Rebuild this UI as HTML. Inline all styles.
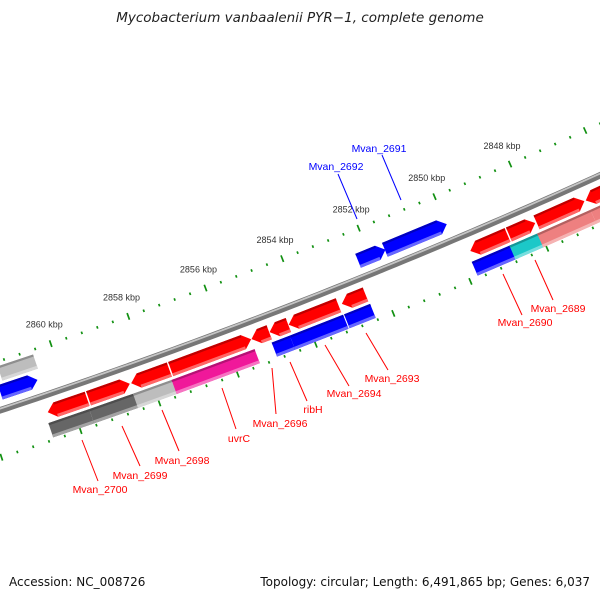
<!DOCTYPE html>
<html><head><meta charset="utf-8"><style>
body{margin:0;background:#fff;}
svg{display:block;font-family:"Liberation Sans","DejaVu Sans",sans-serif;}
</style></head><body>
<svg id="map" width="600" height="600" viewBox="0 0 600 600" xmlns="http://www.w3.org/2000/svg">
<rect width="600" height="600" fill="#fff"/>
<text x="300" y="22" text-anchor="middle" font-size="13.5" font-style="italic" fill="#222" style="font-family:'DejaVu Sans',sans-serif">Mycobacterium vanbaalenii PYR−1, complete genome</text>
<g id="ticks"></g>
<g id="backbone"></g>
<g id="genes"></g>
<g id="labels"></g>
<text x="9" y="586" font-size="12" fill="#111" style="font-family:'DejaVu Sans',sans-serif">Accession: NC_008726</text>
<text x="590" y="586" text-anchor="end" font-size="12" fill="#111" style="font-family:'DejaVu Sans',sans-serif">Topology: circular; Length: 6,491,865 bp; Genes: 6,037</text>
</svg>
<script>
// gene data (bp)
const geneStart = [2860622,2859585,2858497,2857486,2855412,2854946,2854453,2853079,2849736,2848725,2847999,2846703,
  2860674,2859637,2858523,2857538,2854972,2854505,2853105,2849788,2848803,2848077,2846677,
  2861555,2852328,2851628,2861400];
const geneEnd = [2859585,2858497,2857486,2855386,2854920,2854427,2853131,2852431,2848725,2847999,2846703,2845277,
  2859637,2858471,2857486,2855412,2854505,2853131,2852431,2848725,2848025,2846677,2845174,
  2860570,2851576,2849969,2860492];
const geneRow = [17,17,17,17,17,17,17,17,17,17,17,17,
  35,35,35,35,35,35,35,35,35,35,35,
  -17,-17,-17,-35];
const geneTip = ['L','R','L','R','L','L','L','L','L','R','R','L',
  'N','N','N','N','N','N','N','N','N','N','N',
  'R','R','R','N'];
const geneColor = ['#f00','#f00','#f00','#f00','#f00','#f00','#f00','#f00','#f00','#f00','#f00','#f00',
  '#666','#666','#bdbdbd','#f0189a','#00f','#00f','#00f','#00f','#1cc8c8','#ee8080','#ee8080',
  '#00f','#00f','#00f','#bdbdbd'];
const tickLabels = [2848,2850,2852,2854,2856,2858,2860];

const NS='http://www.w3.org/2000/svg';
const cx=-1879, cy=-5271, R0=5984;
const phiOfX = x => Math.acos((x-cx)/R0);
const phiA = phiOfX(66), phiB = phiOfX(529);
function ang(bp){return phiA + (bp-2860000)/(2848000-2860000)*(phiB-phiA);}
function pt(bp,r){const a=ang(bp);return [cx+r*Math.cos(a), cy+r*Math.sin(a)];}
function ps(arr){return arr.map(p=>p[0].toFixed(2)+','+p[1].toFixed(2)).join(' ');}
function mk(tag,attrs,parent){const e=document.createElementNS(NS,tag);for(const k in attrs)e.setAttribute(k,attrs[k]);parent.appendChild(e);return e;}

// ticks
const tg=document.getElementById('ticks');
for(let bp=2844000;bp<=2864000;bp+=400){
  const major = bp%2000===0;
  [R0-47,R0+45].forEach((r,i)=>{
    const h = major?3.5:1.3;
    const a=pt(bp,r-h), b=pt(bp,r+h);
    const l=mk('line',{x1:a[0],y1:a[1],x2:b[0],y2:b[1],stroke:'#119011','stroke-width':1.7},tg);
    
    
  });
}
tickLabels.forEach(k=>{
  const p=pt(k*1000,R0-67);
  const t=mk('text',{x:p[0],y:p[1]+3,'text-anchor':'middle','font-size':9,fill:'#333'},tg);
  t.textContent=k+' kbp';
  
  
});

// backbone
const bg=document.getElementById('backbone');
function arcPts(r){const a=[];for(let bp=2864000;bp>=2843000;bp-=250)a.push(pt(bp,r));return a;}
const b1=mk('polyline',{points:ps(arcPts(R0)),fill:'none',stroke:'#777','stroke-width':6.5},bg);


const b2=mk('polyline',{points:ps(arcPts(R0-1.6)),fill:'none',stroke:'#c4c4c4','stroke-width':1.8},bg);



// genes
function shade(hex,f){
  let h=hex.replace('#','');if(h.length===3)h=h.split('').map(c=>c+c).join('');
  const n=[0,2,4].map(i=>parseInt(h.substr(i,2),16));
  const m=n.map(v=>f>0?Math.round(v+(255-v)*f):Math.round(v*(1+f)));
  return 'rgb('+m.join(',')+')';
}
const gg=document.getElementById('genes');
for(let i=0;i<geneStart.length;i++){
  let hi=Math.max(geneStart[i],geneEnd[i]), lo=Math.min(geneStart[i],geneEnd[i]);
  if(Math.abs(geneRow[i])===17){hi-=18;lo+=18;}
  const rc=R0+geneRow[i], r1=rc-7.5, r2=rc+7.5;
  const t=Math.min(200,(hi-lo)/2);
  let pts, bodyLo=lo, bodyHi=hi;
  if(geneTip[i]==='L'){pts=[pt(lo,r1),pt(lo,r2),pt(hi-t,r2),pt(hi,rc),pt(hi-t,r1)];bodyHi=hi-t;}
  else if(geneTip[i]==='R'){pts=[pt(hi,r1),pt(hi,r2),pt(lo+t,r2),pt(lo,rc),pt(lo+t,r1)];bodyLo=lo+t;}
  else pts=[pt(lo,r1),pt(lo,r2),pt(hi,r2),pt(hi,r1)];
  const g=mk('g',{},gg);
  
  
  mk('polygon',{points:ps(pts),fill:geneColor[i]},g);
  mk('polygon',{points:ps([pt(bodyLo,r1),pt(bodyLo,r1+2.2),pt(bodyHi,r1+2.2),pt(bodyHi,r1)]),fill:shade(geneColor[i],-0.25)},g);
  mk('polygon',{points:ps([pt(bodyLo,r2-3),pt(bodyLo,r2),pt(bodyHi,r2),pt(bodyHi,r2-3)]),fill:shade(geneColor[i],0.4)},g);
}

// labels
const labelText=['Mvan_2691','Mvan_2692','Mvan_2689','Mvan_2690','Mvan_2693','Mvan_2694','ribH','Mvan_2696','uvrC','Mvan_2698','Mvan_2699','Mvan_2700'];
const labelColor=['#00f','#00f','#f00','#f00','#f00','#f00','#f00','#f00','#f00','#f00','#f00','#f00'];
const labelX=[379,336,558,525,392,354,313,280,239,182,140,100];
const labelY=[152,170,312,326,382,397,413,427,442,464,479,493];
const lineA=[[382,155],[338,174],[535,260],[503,274],[366,333],[325,345],[290,362],[272,368],[222,388],[162,410],[122,426],[82,440]];
const lineB=[[401,200],[357,219],[553,300],[522,315],[388,370],[349,386],[307,401],[276,414],[236,429],[179,451],[140,466],[98,481]];
const lg=document.getElementById('labels');
labelText.forEach((s,i)=>{
  const l=mk('line',{x1:lineA[i][0],y1:lineA[i][1],x2:lineB[i][0],y2:lineB[i][1],stroke:labelColor[i],'stroke-width':1},lg);
  
  
  const t=mk('text',{x:labelX[i],y:labelY[i],'text-anchor':'middle','font-size':10.5,fill:labelColor[i]},lg);
  t.textContent=s;
  
  
});
</script>
</body></html>
